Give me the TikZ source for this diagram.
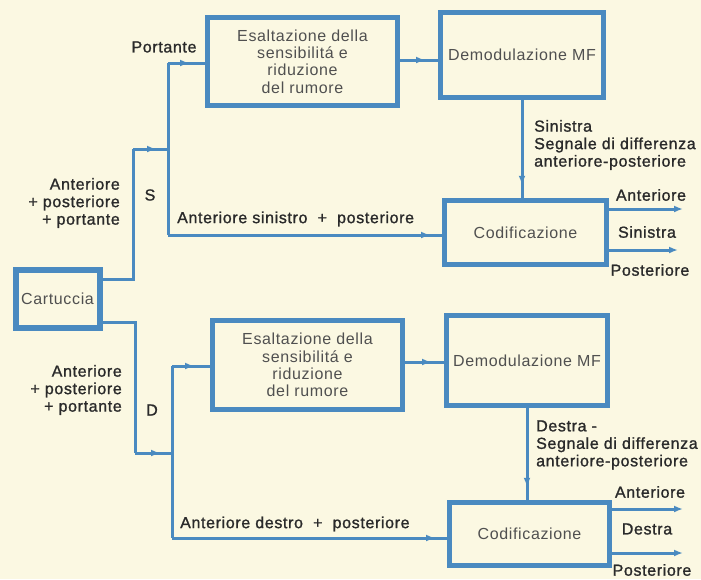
\documentclass[tikz,border=0pt]{standalone}
\usepackage{fontspec}
\setmainfont{Liberation Sans}[LetterSpace=4]
\newfontfamily\lblfont{Liberation Sans}[LetterSpace=4,FakeBold=1.2]
\usetikzlibrary{arrows.meta,decorations.markings}
\definecolor{bg}{HTML}{FBF8E2}
\definecolor{ln}{HTML}{4A8AC0}
\definecolor{tx}{HTML}{2A2A2A}
\definecolor{tb}{HTML}{505050}
\tikzset{
  blk/.style={draw=ln, line width=5.5pt, inner sep=0pt, text=tb, align=center},
  wire/.style={draw=ln, line width=3pt},
  arrowat/.style={postaction={decorate}, decoration={markings, mark=at position #1 with {\arrow{Latex[length=9pt,width=7pt]}}}},
  endarrow/.style={-{Latex[length=9pt,width=7pt]}},
  lbl/.style={text=tx, inner sep=0pt, font=\fontsize{16}{17.5}\lblfont},
}
\begin{document}
\begin{tikzpicture}[x=1pt,y=-1pt,font=\fontsize{16}{17.3}\selectfont]
\fill[bg] (0,0) rectangle (701,579);
\useasboundingbox (0,0) rectangle (701,579);

% ---- boxes ----
\node[blk, line width=6pt, minimum width=84pt, minimum height=58pt] (cart) at (57.5,299) {\raisebox{-5pt}{Cartuccia}};
\node[blk, minimum width=190pt, minimum height=88pt] (eS) at (302.5,61.5) {Esaltazione della\\sensibilitá e\\riduzione\\del rumore};
\node[blk, minimum width=163pt, minimum height=85pt] (dS) at (522,55) {Demodulazione MF};
\node[blk, minimum width=162pt, minimum height=64pt] (cS) at (525.5,232.5) {Codificazione};
\node[blk, minimum width=190pt, minimum height=89pt] (eD) at (307.5,365) {Esaltazione della\\sensibilitá e\\riduzione\\del rumore};
\node[blk, minimum width=161pt, minimum height=90pt] (dD) at (527,360.5) {Demodulazione MF};
\node[blk, minimum width=160pt, minimum height=63pt] (cD) at (529.5,534) {Codificazione};

% ---- coordinates ----
\coordinate (cartS) at (102,279);
\coordinate (cartD) at (102,322);
\coordinate (kS) at (133,149);
\coordinate (jS) at (168,149);
\coordinate (jSt) at (168,63);
\coordinate (jSb) at (168,235);
\coordinate (eSi) at (205,63);
\coordinate (cSi) at (442,235);
\coordinate (eSo) at (400,60);
\coordinate (dSi) at (438,60);
\coordinate (kD) at (135,453);
\coordinate (jD) at (172,453);
\coordinate (jDt) at (172,366);
\coordinate (jDb) at (172,538);
\coordinate (eDi) at (210,366);
\coordinate (cDi) at (447,538);
\coordinate (eDo) at (405,362);
\coordinate (dDi) at (444,362);
\coordinate (oSa) at (683,209);
\coordinate (oSp) at (678,250);
\coordinate (oDa) at (683,509);
\coordinate (oDp) at (683,553);

% ---- upper channel (S) ----
\draw[wire] (cartS) -| (kS);
\draw[wire, arrowat=-12pt] (kS) -- (jS);
\draw[wire, arrowat=-16pt] (jSt) -- (eSi);
\draw[wire] (jSt) -- (jSb);
\draw[wire, arrowat=-12pt] (jSb) -- (cSi);
\draw[wire, arrowat=-13pt] (eSo) -- (dSi);
\draw[wire, arrowat=-13pt] (dS.south) -- (dS.south |- cS.north);
\draw[wire, endarrow] (cS.east |- oSa) -- (oSa);
\draw[wire, endarrow] (cS.east |- oSp) -- (oSp);

% ---- lower channel (D) ----
\draw[wire] (cartD) -| (kD);
\draw[wire, arrowat=-12pt] (kD) -- (jD);
\draw[wire, arrowat=-16pt] (jDt) -- (eDi);
\draw[wire] (jDt) -- (jDb);
\draw[wire, arrowat=-12pt] (jDb) -- (cDi);
\draw[wire, arrowat=-13pt] (eDo) -- (dDi);
\draw[wire, arrowat=-13pt] (dD.south) -- (dD.south |- cD.north);
\draw[wire, endarrow] (cD.east |- oDa) -- (oDa);
\draw[wire, endarrow] (cD.east |- oDp) -- (oDp);

% ---- labels ----
\node[lbl] (lPort) at (164,47) {Portante};
\node[lbl, anchor=east, align=right] (lInS) at (120,203) {Anteriore\\+ posteriore\\+ portante};
\node[lbl] (lS) at (150,195) {S};
\node[lbl, anchor=west] (lSumS) at (177,219) {Anteriore sinistro \ + \ posteriore};
\node[lbl, anchor=west, align=left] (lDiffS) at (534,145) {Sinistra\\Segnale di differenza\\anteriore-posteriore};
\node[lbl] (lAS) at (651,195) {Anteriore};
\node[lbl] (lSin) at (647,232) {Sinistra};
\node[lbl] (lPS) at (650,270) {Posteriore};

\node[lbl, anchor=east, align=right] (lInD) at (122,390) {Anteriore\\+ posteriore\\+ portante};
\node[lbl] (lD) at (152,410) {D};
\node[lbl, anchor=west] (lSumD) at (180,524) {Anteriore destro \ + \ posteriore};
\node[lbl, anchor=west, align=left] (lDiffD) at (536,445) {Destra -\\Segnale di differenza\\anteriore-posteriore};
\node[lbl] (lAD) at (650,492) {Anteriore};
\node[lbl] (lDes) at (647,529) {Destra};
\node[lbl] (lPD) at (652,570) {Posteriore};
\end{tikzpicture}
\end{document}
